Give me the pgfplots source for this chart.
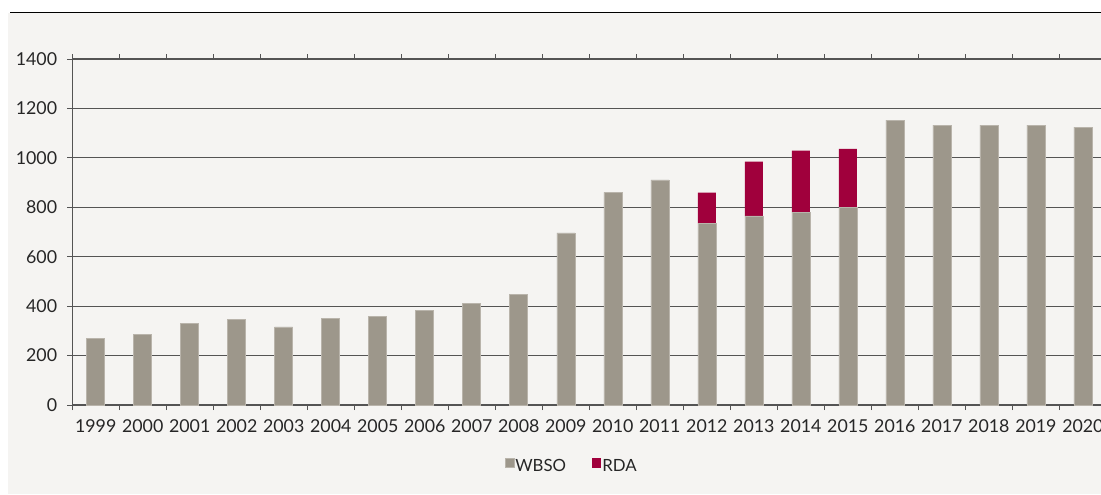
\documentclass[border=0pt]{standalone}
\usepackage{pgfplots}
\pgfplotsset{compat=1.18}
\usepackage{fontspec}
\setmainfont{Lato}
\definecolor{bg}{HTML}{F5F4F2}
\definecolor{wbso}{HTML}{9D978B}
\definecolor{wbsoedge}{HTML}{B9B4AB}
\definecolor{rda}{HTML}{A0003C}
\definecolor{gridc}{HTML}{545454}
\begin{document}
\begin{tikzpicture}
\path[use as bounding box] (0,0) rectangle (550.5pt,247pt);
\clip (0,0) rectangle (550.5pt,247pt);
\fill[bg] (4pt,0) rectangle (550.5pt,240.5pt);
\draw[black, line width=0.5pt] (5pt,240.5pt) -- (550.5pt,240.5pt);
\begin{axis}[
  at={(36.1pt,44.5pt)}, anchor=south west,
  scale only axis, width=517.1pt, height=173pt,
  xmin=-0.5, xmax=21.5, ymin=0, ymax=1400,
  ybar stacked, bar width=9pt,
  ytick={0,200,...,1400},
  ymajorgrids,
  major grid style={gridc, line width=0.6pt},
  axis line style={gridc, line width=0.6pt},
  tick style={gridc, line width=0.5pt},
  tick align=outside,
  major tick length=2.5pt,
  minor tick length=2.5pt,
  xtick={0,...,21},
  xticklabels={1999,2000,2001,2002,2003,2004,2005,2006,2007,2008,2009,2010,2011,2012,2013,2014,2015,2016,2017,2018,2019,2020},
  major x tick style={draw=none},
  minor xtick={-0.5,0.5,...,21.5},
  /pgf/number format/1000 sep={},
  /pgf/number format/assume math mode=true,
  ticklabel style={font=\fontsize{8.9}{10}\selectfont, text=black!85},
  yticklabel style={xshift=-1.5pt},
  xticklabel style={yshift=-1.3pt},
  legend columns=2,
  legend style={at={(0.4824,-0.179)}, anchor=center, draw=none, fill=none,
    font=\fontsize{8.4}{10}\selectfont, text=black!85,
    nodes={inner sep=0.5pt},
    /tikz/every even column/.append style={column sep=12.5pt}},
  legend image code/.code={\fill[#1] (0pt,-0.3pt) rectangle (4.6pt,4.3pt);},
]
\addplot[fill=wbso, draw=wbsoedge, line width=0.3pt] coordinates {
(0,271) (1,286) (2,331) (3,345) (4,316) (5,352) (6,359) (7,382) (8,411) (9,448)
(10,696) (11,860) (12,911) (13,735) (14,765) (15,780) (16,800) (17,1153)
(18,1132) (19,1132) (20,1132) (21,1124)};
\addplot[fill=rda, draw=none] coordinates {
(0,0) (1,0) (2,0) (3,0) (4,0) (5,0) (6,0) (7,0) (8,0) (9,0)
(10,0) (11,0) (12,0) (13,124) (14,220) (15,249) (16,236) (17,0)
(18,0) (19,0) (20,0) (21,0)};
\legend{WBSO,RDA}
\end{axis}
\end{tikzpicture}
\end{document}
